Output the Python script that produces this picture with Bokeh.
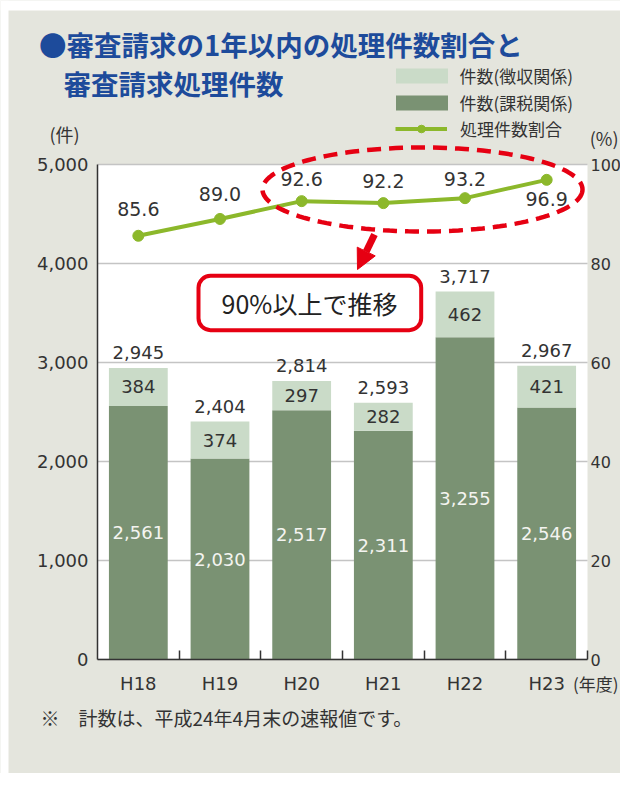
import numpy as np
from bokeh.plotting import figure
from bokeh.models import (Range1d, LinearAxis, FixedTicker, NumeralTickFormatter, ColumnDataSource,
                          Label, Legend, LegendItem, Arrow, NormalHead, BoxAnnotation, PolyAnnotation,
                          CustomJSTickFormatter, Grid)
from bokeh.core.properties import value
from bokeh.embed import file_html
from bokeh.resources import INLINE

# ---------------- data ----------------
years = ["H18", "H19", "H20", "H21", "H22", "H23"]
tax_cases = [2561, 2030, 2517, 2311, 3255, 2546]        # 件数(課税関係)
collect_cases = [384, 374, 297, 282, 462, 421]          # 件数(徴収関係)
total_cases = [2945, 2404, 2814, 2593, 3717, 2967]      # 合計
pct_processed = [85.6, 89.0, 92.6, 92.2, 93.2, 96.9]    # 処理件数割合 (%)
count_ticks = [0, 1000, 2000, 3000, 4000, 5000]
pct_ticks = [0, 20, 40, 60, 80, 100]

# ---------------- style ----------------
BG = "#e4e5dd"
RED = "#e60012"
DARK = "#7a9273"
LIGHT = "#cadbc8"
LINE = "#8cb82b"
BLUE = "#1d4b9b"
TXT = "#333333"
NUM_FONT = "DejaVu Sans"
JP_FONT = "Noto Sans CJK JP"

W, H = 620, 773
# plot area (white box) in picture pixels
FL, FR, FT, FB = 97, 587, 164, 659
N = len(years)
CMAX, PMAX = 5000, 100

def dx(px):  # picture px -> x data
    return (px - FL) / ((FR - FL) / N)

def dy(py):  # picture px -> count data
    return (FB - py) / ((FB - FT) / CMAX)

def dp(py):  # picture px -> percent data
    return (FB - py) / ((FB - FT) / PMAX)

p = figure(width=W, height=H, x_range=Range1d(dx(0), dx(W)), y_range=Range1d(dy(H), dy(0)),
           x_axis_type=None, y_axis_type=None,
           output_backend="svg", toolbar_location=None, min_border=0,
           background_fill_color=BG, border_fill_color=BG, outline_line_color=None)
p.extra_y_ranges = {"pct": Range1d(dp(H), dp(0))}

# white page edge (top / left) and white plot area
p.quad(left=dx(0), right=dx(8), bottom=dy(H), top=dy(0), fill_color="white", line_color=None,
       level="image")
p.quad(left=dx(0), right=dx(W), bottom=dy(10), top=dy(0), fill_color="white", line_color=None,
       level="image")
p.quad(left=0, right=N, bottom=0, top=CMAX, fill_color="white", line_color=None, level="image")

# grid lines
try:
    g = Grid(dimension=1, ticker=FixedTicker(ticks=count_ticks), cross_bounds=(0, N),
             grid_line_color="#c4c4c4", grid_line_width=1.5)
    p.add_layout(g)
except Exception:
    p.segment(x0=0, x1=N, y0=count_ticks, y1=count_ticks, line_color="#c4c4c4",
              line_width=1.5, level="underlay")

xpos = np.arange(N) + 0.5
src = ColumnDataSource(dict(
    x=xpos,
    tax=tax_cases,
    collect=collect_cases,
    total=total_cases,
    pct=pct_processed,
    tax_mid=[t / 2 for t in tax_cases],
    collect_mid=[t + c / 2 for t, c in zip(tax_cases, collect_cases)],
    tax_lbl=[f"{v:,}" for v in tax_cases],
    collect_lbl=[f"{v:,}" for v in collect_cases],
    total_lbl=[f"{v:,}" for v in total_cases],
    pct_lbl=[f"{v:.1f}" for v in pct_processed],
    pct_dy=[-27, -25, -22, -22, -19, 19],
))

bars = p.vbar_stack(["tax", "collect"], x="x", width=0.72, fill_color=[DARK, LIGHT],
                    line_color=None, source=src)

ln = p.line("x", "pct", source=src, y_range_name="pct", line_color=LINE, line_width=4)
sc = p.scatter("x", "pct", source=src, y_range_name="pct", size=11,
               fill_color=LINE, line_color=LINE)

nf = value(NUM_FONT)
p.text("x", "total", text="total_lbl", source=src, text_align="center", text_baseline="middle",
       y_offset=-15, text_font=nf, text_font_size="18px", text_color=TXT)
p.text("x", "collect_mid", text="collect_lbl", source=src, text_align="center",
       text_baseline="middle", text_font=nf, text_font_size="18px", text_color=TXT)
p.text("x", "tax_mid", text="tax_lbl", source=src, text_align="center",
       text_baseline="middle", text_font=nf, text_font_size="18px", text_color="#f4f4f0")
p.text("x", "pct", text="pct_lbl", source=src, y_range_name="pct", text_align="center",
       text_baseline="middle", y_offset="pct_dy", text_font=nf, text_font_size="19px",
       text_color=TXT)

# ---------------- axes ----------------
ya = LinearAxis(ticker=FixedTicker(ticks=count_ticks), formatter=NumeralTickFormatter(format="0,0"),
                fixed_location=0, bounds=(0, CMAX))
ya.major_tick_out = 0
ya.major_tick_in = 0
ya.minor_tick_line_color = None
ya.axis_line_color = "#333333"
ya.axis_line_width = 1.5
ya.major_label_standoff = 9
ya.major_label_text_font = NUM_FONT
ya.major_label_text_font_size = "18px"
ya.major_label_text_color = TXT
p.add_layout(ya, "left")

xa = LinearAxis(ticker=FixedTicker(ticks=list(xpos), minor_ticks=list(range(1, N + 1))),
                formatter=CustomJSTickFormatter(args=dict(labels=years),
                                                code="return labels[Math.floor(tick)] || '';"),
                fixed_location=0, bounds=(0, N))
xa.major_tick_in = 0
xa.major_tick_out = 0
xa.minor_tick_in = 9
xa.minor_tick_out = 0
xa.minor_tick_line_color = "#333333"
xa.minor_tick_line_width = 1.5
xa.axis_line_color = "#333333"
xa.axis_line_width = 1.5
xa.major_label_standoff = 13
xa.major_label_text_font = NUM_FONT
xa.major_label_text_font_size = "18px"
xa.major_label_text_color = TXT
p.add_layout(xa, "below")

ra = LinearAxis(y_range_name="pct", ticker=FixedTicker(ticks=pct_ticks), fixed_location=N,
                bounds=(0, PMAX))
ra.axis_line_color = None
ra.major_tick_line_color = None
ra.major_tick_out = 0
ra.major_tick_in = 0
ra.minor_tick_line_color = None
ra.minor_tick_out = 0
ra.minor_tick_in = 0
ra.major_label_standoff = 3
ra.major_label_text_font = NUM_FONT
ra.major_label_text_font_size = "16px"
ra.major_label_text_color = TXT
p.add_layout(ra, "right")

# ---------------- legend ----------------
leg1 = Legend(items=[LegendItem(label="件数(徴収関係)", renderers=[bars[1]]),
                     LegendItem(label="件数(課税関係)", renderers=[bars[0]])],
              location=(388.5, H - 115),
              glyph_width=65, glyph_height=19, label_height=19, label_standoff=6,
              spacing=2, padding=0, margin=0, border_line_color=None, background_fill_alpha=0,
              label_text_font=JP_FONT, label_text_font_size="17px", label_text_color=TXT)
leg2 = Legend(items=[LegendItem(label="処理件数割合", renderers=[ln, sc])],
              location=(395, H - 140.5),
              glyph_width=52, glyph_height=19, label_height=19, label_standoff=13,
              spacing=0, padding=0, margin=0, border_line_color=None, background_fill_alpha=0,
              label_text_font=JP_FONT, label_text_font_size="17px", label_text_color=TXT)
p.add_layout(leg1)
p.add_layout(leg2)

# ---------------- annotations ----------------
t = np.linspace(0, 2 * np.pi, 160)
ell_x = [dx(422 + 160 * np.cos(a)) for a in t]
ell_y = [dy(189 + 42 * np.sin(a)) for a in t]
p.add_layout(PolyAnnotation(xs=ell_x, ys=ell_y, line_color=RED, line_alpha=1, line_width=4.5,
                            line_dash="14 8", fill_alpha=0))

p.add_layout(Arrow(end=NormalHead(size=20, fill_color=RED, line_color=RED),
                   x_start=dx(374), y_start=dy(234), x_end=dx(357), y_end=dy(269),
                   line_color=RED, line_width=7))

p.add_layout(BoxAnnotation(left=dx(198), right=dx(420.7), top=dy(275.3), bottom=dy(329.7),
                           border_radius=12, line_color=RED, line_alpha=1, line_width=4,
                           fill_color="white", fill_alpha=1))

def label(txt, px, py, size, color=TXT, font=JP_FONT, align="left", style="normal"):
    p.add_layout(Label(x=dx(px), y=dy(py), text=txt, text_font=font, text_font_size=size,
                       text_color=color, text_align=align, text_baseline="middle",
                       text_font_style=style))

label("90%以上で推移", 309, 302, "25px", color="#222222", align="center")
label("●審査請求の1年以内の処理件数割合と", 38.5, 43, "27.5px", color=BLUE, style="bold")
label("審査請求処理件数", 63, 82.5, "27.5px", color=BLUE, style="bold")
label("(件)", 49, 133, "18px")
label("(%)", 618, 137, "18px", align="right")
label("(年度)", 618, 683, "17px", align="right")
label("※　計数は、平成24年4月末の速報値です。", 40, 717, "19px")

open("out.html", "w").write(file_html(p, INLINE))
